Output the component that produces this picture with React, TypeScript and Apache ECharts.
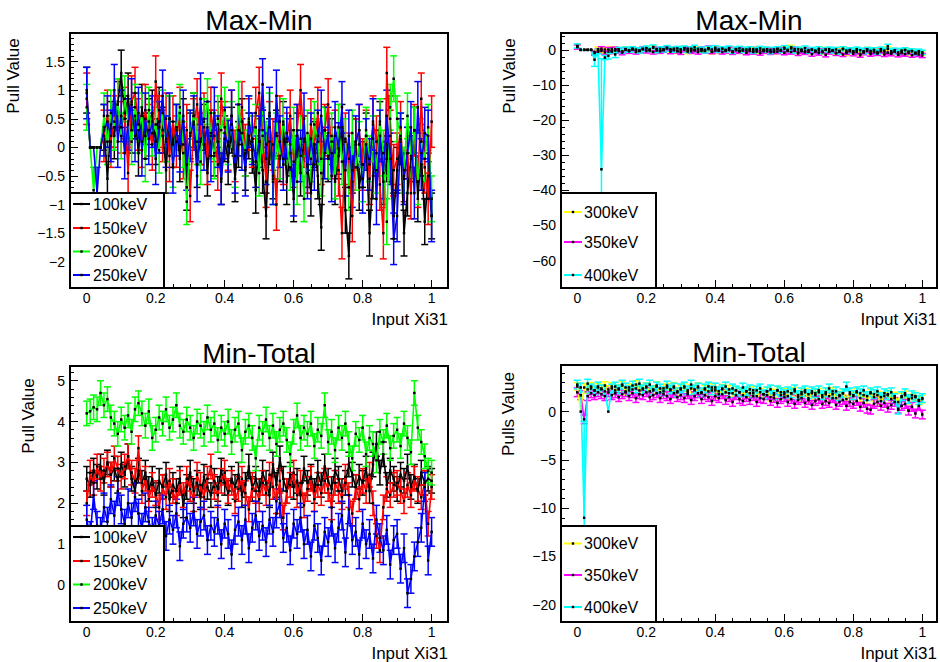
import React, { useEffect, useRef } from "react";
import * as echarts from "echarts";

// ---------- data ----------
const inputXi31: number[] = Array.from({ length: 101 }, (_, i) => i / 100);

// Max-Min (left)
const maxMin100keV = [
  1.0, 0, 0, 0, 0, 0.35, -0.55, 0.4, 0.2, 0.75,
  1.3, 0.5, 0.9, 0.3, 0.55, -0.1, 0.7, 0.2, 0.45, 0.6,
  0.1, 0.65, 0.3, -0.4, 0.5, 0.05, 0.35, -0.2, 0.45, -0.7,
  0.2, 0.55, -0.3, 0.1, 0.35, -0.45, 0.25, -0.1, 0.4, -0.6,
  0.15, -0.25, 0.3, -0.55, 0.05, 0.45, -0.35, 0.2, -0.05, -0.75,
  0.3, -0.4, -1.2, 0.1, -0.5, 0.25, -0.2, 0.4, -0.6, -0.1,
  -0.9, 0.2, -0.45, 0.15, -0.3, -0.8, 0.05, -0.5, -1.4, 0.3,
  -0.2, 0.1, -0.6, -0.15, 0.35, -1.1, -1.9, -0.4, 0.1, -0.7,
  -0.3, 0.2, -1.5, -0.5, -0.1, 0.4, -0.6, -0.2, 0.5, -1.2,
  -0.4, 0.1, -1.5, -0.8, -0.2, 0.3, -0.9, -0.1, -1.3, -0.5,
  -1.2,
];
const maxMin150keV = [
  0.85, 0, 0, 0, 0, 0.2, 0.55, 0.1, 0.45, 0.75,
  0.35, 0.6, -0.45, 0.8, 0.95, 0.4, 0.1, 0.65, 0.3, 0.05,
  1.15, 0.45, 0.2, 0.5, -0.15, 0.45, 0.1, 0.6, -0.1, 0.3,
  -0.85, 0.4, 0.75, 0.15, 0.5, -0.2, 0.6, 0.2, -0.3, 0.85,
  0.35, 0.05, 0.55, -0.15, 0.3, 0.7, -0.05, 0.4, 0.1, 0.6,
  0.95, 0.2, -0.6, 0.35, 0.05, -1.0, 0.45, -0.2, 0.15, 0.55,
  -0.25, 0.3, 1.0, 0.1, -0.35, 0.4, 0.05, 0.6, -0.2, 0.3,
  0.75, -0.1, 0.2, -0.4, -1.5, 0.15, -0.2, -1.2, 0.05, 0.3,
  -0.3, 0.2, -0.55, 0.45, 0.1, -0.65, -1.5, 1.3, 0.2, -0.4,
  -0.2, 0.35, -0.5, -0.1, -0.8, 0.3, -0.6, 0.85, -0.35, -0.9,
  0.45,
];
const maxMin200keV = [
  0.7, 0, -0.75, 0, 0, 0.55, 0.1, 0.6, 0.35, 0.8,
  0.2, 0.85, 0.45, 0.1, 0.7, 0.3, 0.55, -0.2, 0.65, 0.25,
  0.4, -0.05, 0.6, 0.15, 0.5, -0.3, 0.35, 0.7, 0.05, -0.95,
  0.25, 0.55, 0.1, -0.25, 0.45, 0.8, 0.2, -0.15, 0.5, 0.3,
  0.65, 0.1, 0.4, -0.3, 0.75, 0.25, -0.1, 0.5, 0.15, 0.35,
  -0.45, 0.3, 0.05, 0.55, -0.6, 0.2, -0.15, 0.45, 0.1, -0.35,
  0.3, -0.6, 0.15, -0.9, 0.25, -0.2, 0.4, 0.1, -0.45, 0.3,
  -0.15, 0.2, -0.5, 0.35, -0.25, 0.1, -0.7, 0.25, -0.35, 0.05,
  -0.55, 0.3, -0.2, 0.15, -0.4, 0.45, -0.1, -1.3, 0.7, 1.2,
  0.5, 0.2, -0.4, 0.55, -0.15, 0.3, -0.6, 0.1, -0.2, 0.35,
  -0.9,
];
const maxMin250keV = [
  0.95, 0, 0, -0.8, 0, 0.3, 0.45, 0.2, 1.0, 0.1,
  0.55, -0.1, 0.4, 0.75, 0.2, 0.6, -0.05, 0.5, 0.15, 0.45,
  -0.2, 0.35, 0.9, 0.1, 0.5, -0.35, 0.3, 0.02, 0.55, -0.3,
  0.2, 0.45, -0.5, 0.85, 0.05, 0.35, -0.15, 0.6, 0.1, -0.55,
  0.25, 0.02, 0.55, -0.35, 0.3, 0.05, -0.4, 0.45, 0.15, -0.25,
  0.1, 1.1, -0.2, 0.6, -0.55, 0.9, 0.1, -0.3, 0.25, 0.05,
  -0.75, 0.3, -0.15, 0.5, -0.45, 0.15, -0.3, 0.2, 0.55, -0.1,
  0.25, -0.5, 0.35, -0.02, 0.7, -0.4, 0.2, -0.6, 0.1, 0.3,
  -0.7, 0.05, -0.3, 0.4, -0.9, 0.2, -0.45, 0.55, -0.2, -1.6,
  -1.2, 0.15, -0.55, -0.1, 0.35, -0.8, 0.7, -0.3, 0.25, 0.2,
  -1.2,
];

// Min-Total (left)
const minTotal100keV = [
  2.6, 2.45, 2.8, 2.65, 2.9, 2.5, 3.0, 2.7, 2.85, 2.55,
  2.95, 2.7, 3.15, 2.6, 2.3, 2.8, 2.5, 2.75, 2.35, 2.6,
  2.2, 2.55, 2.4, 2.7, 2.1, 2.45, 2.3, 2.6, 1.95, 2.4,
  2.75, 2.3, 2.5, 2.15, 2.65, 2.4, 2.2, 2.55, 2.35, 2.8,
  2.5, 2.25, 2.6, 2.4, 2.7, 2.2, 2.45, 2.9, 2.35, 2.6,
  2.3, 2.75, 2.5, 2.2, 2.95, 2.45, 3.1, 2.6, 2.3, 2.7,
  2.4, 2.55, 2.2, 2.85, 2.5, 2.65, 2.3, 2.75, 2.45, 2.9,
  2.55, 2.35, 2.8, 2.6, 2.3, 2.5, 2.95, 2.7, 2.4, 2.65,
  2.5, 2.85, 2.3, 2.95, 3.45, 2.75, 3.2, 2.45, 2.8, 2.6,
  2.35, 2.7, 2.55, 2.9, 2.4, 2.65, 2.3, 2.75, 2.5, 2.6,
  2.55,
];
const minTotal150keV = [
  2.0, 2.75, 2.5, 2.9, 2.6, 2.8, 2.95, 2.7, 3.1, 2.85,
  2.65, 2.9, 3.15, 2.75, 2.55, 3.35, 2.3, 2.6, 2.1, 2.45,
  2.25, 1.9, 2.4, 2.15, 2.55, 2.3, 2.0, 2.5, 2.2, 2.6,
  2.35, 2.1, 2.7, 2.45, 2.15, 2.6, 2.9, 2.4, 2.2, 2.55,
  2.75, 2.3, 2.5, 2.05, 2.35, 2.6, 2.25, 1.85, 2.45, 2.3,
  2.1, 2.5, 2.25, 2.7, 2.4, 2.05, 2.55, 1.65, 2.3, 2.45,
  2.75, 2.2, 2.5, 1.95, 2.35, 2.6, 2.1, 2.45, 2.25, 2.55,
  2.35, 1.9, 2.5, 2.3, 2.15, 2.65, 2.2, 1.75, 2.4, 2.1,
  2.55, 2.3, 2.7, 2.0, 1.2, 0.85, 1.9, 2.35, 2.2, 2.45,
  2.5, 2.3, 2.05, 2.45, 2.2, 2.6, 2.35, 2.15, 2.5, 1.5,
  2.4,
];
const minTotal200keV = [
  4.2, 4.25, 4.35, 4.3, 4.7, 4.4, 4.55, 4.1, 3.95, 3.7,
  4.05, 3.85, 4.15, 3.75, 4.3, 4.45, 4.2, 3.9, 4.25, 3.6,
  3.8, 4.1, 3.95, 4.3, 3.85, 4.05, 4.4, 3.9, 3.75, 4.05,
  3.85, 3.6, 4.0, 3.9, 3.7, 4.1, 3.8, 3.95, 3.55, 3.85,
  3.7, 4.0, 3.5, 3.8, 3.95, 3.3, 3.75, 3.9, 3.6, 3.1,
  3.85, 3.7, 4.05, 3.6, 3.9, 3.45, 3.8, 3.95, 3.55, 3.2,
  3.75, 4.15, 3.6, 3.85, 3.7, 3.95, 3.4, 3.8, 3.65, 4.4,
  3.5, 3.75, 3.3, 3.85, 3.6, 3.95, 3.45, 3.1, 3.7, 3.55,
  3.85, 3.2, 3.6, 3.45, 3.05, 3.75, 3.5, 3.9, 3.35, 3.65,
  3.8, 3.4, 3.95, 3.6, 3.25, 4.7, 3.85, 3.5, 3.15, 2.8,
  2.75,
];
const minTotal250keV = [
  1.6, 1.2, 2.2, 1.45, 1.3, 1.9, 1.55, 2.1, 1.7, 2.3,
  1.85, 1.5, 2.0, 1.65, 2.15, 1.75, 1.4, 1.9, 1.55, 1.3,
  1.7, 1.45, 1.85, 1.2, 1.6, 1.35, 1.75, 0.95, 1.5, 1.65,
  1.4, 1.8, 1.25, 1.55, 1.7, 1.1, 1.45, 1.3, 1.6, 1.0,
  1.5, 1.25, 0.75, 1.35, 1.55, 1.1, 1.6, 0.9, 1.4, 1.7,
  1.2, 1.45, 1.05, 1.6, 1.3, 1.75, 2.0, 1.15, 1.4, 0.85,
  1.5, 1.25, 1.65, 1.0, 1.35, 0.7, 1.45, 1.15, 0.6, 1.3,
  1.05, 1.55, 0.9, 1.4, 1.7, 0.8, 1.85, 1.1, 1.3, 0.75,
  1.5, 1.0, 1.25, 0.65, 1.6, 1.15, 0.85, 1.35, 0.5, 1.1,
  1.25, 0.4, 0.9, -0.2, 0.15, 0.7, 1.05, 1.4, 2.4, 0.6,
  1.3,
];

// Max-Min (right)
const maxMin300keV = [
  1.0, 0, 0, 0, 0, -0.6, 0.2, -0.3, 0.1, -0.5,
  0.3, -0.2, 0.1, -0.4, 0.2, -0.1, 0.3, 0.0, -0.3, 0.2,
  0.4, -0.2, 0.6, 0.1, -0.3, 0.2, 0.5, -0.1, 0.3, -0.4,
  0.1, 0.4, -0.5, 0.2, -0.1, 0.3, -0.3, 0.0, 0.2, -0.6,
  0.1, -0.3, 0.3, -0.2, 0.0, -0.5, 0.2, -0.4, 0.1, -0.3,
  -0.1, 0.2, -0.5, -0.2, 0.1, -0.4, 0.0, -0.6, 0.2, -0.3,
  0.3, -0.2, 0.7, -0.1, -0.5, 0.1, -0.3, -0.6, 0.0, -0.4,
  -0.2, -0.7, 0.1, -0.4, -0.1, -0.8, -0.3, 0.2, -0.9, -0.2,
  -0.5, -0.1, -1.1, -0.4, 0.1, -0.7, -0.3, -0.9, -0.2, -0.6,
  0.3, -0.8, -0.3, -1.2, -0.5, -0.1, -0.9, -0.4, -1.0, -0.6,
  -0.9,
];
const maxMin350keV = [
  0.8, 0, 0, 0, 0, -0.9, -0.4, 0.3, -0.7, 0.1,
  -0.5, 0.2, -0.3, -0.8, 0.0, -0.4, 0.1, -0.6, -0.2, 0.3,
  -0.3, 0.0, -0.6, 0.2, -0.4, -0.1, 0.4, -0.5, 0.1, -0.3,
  -0.7, 0.0, 0.3, -0.4, -0.1, -0.6, 0.2, -0.3, 0.5, -0.5,
  -0.2, 0.1, -0.6, -0.3, 0.2, -0.7, -0.1, -0.4, 0.0, -0.8,
  -0.3, -0.6, 0.1, -0.9, -0.4, -0.1, -0.7, -0.2, -0.5, 0.0,
  -0.8, -0.3, -0.6, 0.2, -1.0, -0.4, -0.7, -0.1, -1.2, -0.5,
  -0.9, -0.3, -1.4, -0.6, -0.2, -1.0, -0.5, -1.3, -0.7, -0.4,
  -1.1, -0.6, -1.5, -0.8, -0.3, -1.2, -0.7, -1.0, -0.4, -1.3,
  -0.8, -1.1, -0.5, -1.4, -0.9, -1.2, -0.6, -1.5, -1.0, -1.3,
  -1.6,
];
const maxMin400keV = [
  1.1, 0, 0, 0, 0, -2.8, -0.5, -34.0, -2.2, -1.7,
  -0.3, -1.3, 0.1, -0.4, 0.2, -0.1, 0.3, 0.0, -0.3, 0.2,
  0.5, 0.1, 0.8, -0.2, 0.3, 0.0, 0.6, 0.2, -0.1, 0.4,
  0.1, 0.5, -0.2, 0.3, 0.7, 0.0, 0.2, -0.3, 0.4, 0.1,
  0.6, -0.1, 0.3, 0.0, 0.5, -0.4, 0.2, 0.4, -0.2, 0.1,
  0.3, -0.3, 0.0, 0.4, -0.1, 0.2, -0.5, 0.1, 0.3, -0.2,
  0.6, 0.0, 0.4, -0.3, 0.2, -0.1, 0.5, -0.4, 0.1, -0.2,
  0.3, -0.5, 0.0, 0.2, -0.3, 0.1, -0.6, 0.3, -0.2, 0.0,
  -0.4, 0.2, -0.1, -0.5, 0.1, -0.3, 0.0, -0.6, 0.2, -0.2,
  1.0, -0.4, -0.1, -0.7, -0.2, 0.0, -0.5, -0.3, -0.8, -0.4,
  -0.7,
];
const maxMin400keVLargeErrors: [number, number][] = [[5, 1.9], [7, 31.5], [9, 0.9], [11, 0.9]];

// Min-Total (right)
const minTotal300keV = [
  2.6, 0.0, 2.5, 2.3, 2.6, 2.2, 2.5, 2.4, 2.7, 2.3,
  2.6, 2.2, 2.4, 2.7, 2.1, 2.5, 2.3, 2.8, 2.2, 2.4,
  2.6, 2.1, 2.3, 2.7, 2.0, 2.4, 2.5, 2.2, 2.6, 2.1,
  2.3, 2.5, 2.0, 2.4, 2.2, 2.6, 1.9, 2.3, 2.1, 2.5,
  2.2, 1.8, 2.4, 2.0, 2.3, 1.9, 2.2, 2.0, 1.7, 2.1,
  1.9, 2.2, 1.6, 2.0, 1.8, 2.1, 1.5, 1.9, 2.2, 1.7,
  2.0, 1.6, 1.9, 2.1, 1.5, 1.8, 2.0, 1.4, 1.9, 1.7,
  2.0, 1.5, 1.8, 1.6, 2.1, 1.4, 1.7, 1.9, 1.3, 1.8,
  1.6, 2.0, 1.4, 1.7, 1.2, 1.9, 1.5, 1.7, 1.1, 1.6,
  1.8, 1.3, 1.6, 1.0, 1.5, 1.7, 1.2, 1.4, 1.6, 1.1,
  1.3,
];
const minTotal350keV = [
  2.0, 1.7, -0.8, 1.6, 1.9, 1.7, 2.0, 1.8, 1.6, 2.0,
  1.7, 1.9, 1.5, 1.8, 2.0, 1.6, 1.9, 1.4, 1.8, 1.7,
  2.0, 1.5, 1.7, 1.9, 1.4, 1.8, 1.6, 1.3, 1.9, 1.5,
  1.7, 1.4, 1.8, 1.2, 1.6, 1.9, 1.3, 1.7, 1.5, 1.1,
  1.6, 1.4, 1.8, 1.2, 1.5, 1.0, 1.7, 1.3, 1.1, 1.5,
  1.2, 1.6, 1.0, 1.4, 1.3, 1.7, 1.1, 1.4, 0.9, 1.3,
  1.5, 1.0, 1.3, 0.8, 1.2, 1.4, 0.9, 1.2, 0.7, 1.1,
  1.3, 0.8, 1.1, 0.9, 1.4, 0.7, 1.0, 1.2, 0.6, 1.0,
  0.8, 1.1, 0.5, 0.9, 0.3, 0.2, 0.8, 1.0, 0.6, 0.9,
  0.4, 0.7, 1.0, 0.3, 0.6, 0.8, 0.1, 0.5, -0.2, 0.6,
  -0.3,
];
const minTotal400keV = [
  2.8, 2.5, -11.0, 2.9, 2.4, 2.2, 2.6, 2.3, 2.1, 0.0,
  2.4, 2.6, 2.3, 2.8, 2.5, 2.2, 2.7, 2.4, 2.9, 2.3,
  2.5, 2.8, 2.2, 2.6, 2.4, 2.1, 2.7, 2.3, 2.5, 2.0,
  2.4, 2.6, 2.2, 2.8, 2.3, 2.5, 2.0, 2.4, 2.6, 2.2,
  2.5, 2.1, 2.3, 2.6, 1.9, 2.4, 2.2, 2.0, 2.5, 2.1,
  2.3, 1.9, 2.2, 2.4, 1.8, 2.1, 2.3, 1.7, 2.2, 2.0,
  1.8, 2.1, 1.9, 2.3, 1.7, 2.0, 2.2, 1.8, 2.1, 1.9,
  2.2, 1.7, 2.0, 2.4, 1.8, 2.1, 1.6, 1.9, 2.6, 2.0,
  1.7, 2.1, 1.9, 2.2, 1.6, 2.0, 1.8, 2.1, 1.5, 1.9,
  1.7, 2.0, 1.4, 0.2, 1.6, 1.9, 1.3, 1.7, 1.5, 1.2,
  1.4,
];
const minTotal400keVLargeErrors: [number, number][] = [[2, 10.0]];

// ---------- styling / layout ----------
const FONT = '"Liberation Sans", Arial, Helvetica, sans-serif';

type Curve = {
  name: string;
  color: string;
  values: number[];
  err: number;
  noErr: number[];
  bigErr?: [number, number][];
};

type Panel = {
  title: string;
  yTitle: string;
  left: number;
  top: number;
  width: number;
  height: number;
  xMin: number;
  xMax: number;
  yMin: number;
  yMax: number;
  yStep: number;
  ySplit: number;
  yTitlePos: [number, number];
  legendBox: [number, number, number, number];
  legendRows: number[];
  legendLine: [number, number];
  legendTextX: number;
  curves: Curve[];
};

const panels: Panel[] = [
  {
    title: "Max-Min", yTitle: "Pull Value",
    left: 70, top: 33, width: 378, height: 255,
    xMin: -0.0485, xMax: 1.0475, yMin: -2.46, yMax: 2.0, yStep: 0.5, ySplit: 9,
    yTitlePos: [13, 76],
    legendBox: [70, 193, 94, 95], legendRows: [204, 228, 251.5, 275], legendLine: [73, 90], legendTextX: 93,
    curves: [
      { name: "100keV", color: "#000000", values: maxMin100keV, err: 0.4, noErr: [1, 2, 3, 4] },
      { name: "150keV", color: "#ff0000", values: maxMin150keV, err: 0.45, noErr: [1, 2, 3, 4] },
      { name: "200keV", color: "#00ff00", values: maxMin200keV, err: 0.4, noErr: [1, 3, 4] },
      { name: "250keV", color: "#0000ff", values: maxMin250keV, err: 0.45, noErr: [1, 2, 4] },
    ],
  },
  {
    title: "Max-Min", yTitle: "Pull Value",
    left: 561, top: 33, width: 376, height: 255,
    xMin: -0.0472, xMax: 1.0426, yMin: -67.8, yMax: 4.8, yStep: 10, ySplit: 7,
    yTitlePos: [509, 76],
    legendBox: [561, 193, 95, 95], legendRows: [212, 242, 275], legendLine: [564, 582], legendTextX: 584,
    curves: [
      { name: "300keV", color: "#ffff00", values: maxMin300keV, err: 0.6, noErr: [1, 2, 3, 4] },
      { name: "350keV", color: "#ff00ff", values: maxMin350keV, err: 0.6, noErr: [1, 2, 3, 4] },
      { name: "400keV", color: "#00ffff", values: maxMin400keV, err: 0.6, noErr: [1, 2, 3, 4], bigErr: maxMin400keVLargeErrors },
    ],
  },
  {
    title: "Min-Total", yTitle: "Pull Value",
    left: 70, top: 366, width: 378, height: 256,
    xMin: -0.0485, xMax: 1.0475, yMin: -0.905, yMax: 5.36, yStep: 1, ySplit: 6,
    yTitlePos: [28, 416],
    legendBox: [70, 526, 94, 96], legendRows: [537, 561, 584.5, 608], legendLine: [73, 90], legendTextX: 93,
    curves: [
      { name: "100keV", color: "#000000", values: minTotal100keV, err: 0.3, noErr: [] },
      { name: "150keV", color: "#ff0000", values: minTotal150keV, err: 0.3, noErr: [] },
      { name: "200keV", color: "#00ff00", values: minTotal200keV, err: 0.3, noErr: [] },
      { name: "250keV", color: "#0000ff", values: minTotal250keV, err: 0.35, noErr: [] },
    ],
  },
  {
    title: "Min-Total", yTitle: "Pulls Value",
    left: 561, top: 365, width: 376, height: 257,
    xMin: -0.0472, xMax: 1.0426, yMin: -21.8, yMax: 4.83, yStep: 5, ySplit: 5,
    yTitlePos: [508, 414],
    legendBox: [561, 526, 95, 96], legendRows: [543.5, 575, 607], legendLine: [564, 582], legendTextX: 584,
    curves: [
      { name: "300keV", color: "#ffff00", values: minTotal300keV, err: 0.4, noErr: [1] },
      { name: "350keV", color: "#ff00ff", values: minTotal350keV, err: 0.45, noErr: [] },
      { name: "400keV", color: "#00ffff", values: minTotal400keV, err: 0.45, noErr: [9], bigErr: minTotal400keVLargeErrors },
    ],
  },
];

function fmtTick(step: number) {
  return (v: number) => {
    const r = v / step;
    if (Math.abs(r - Math.round(r)) > 1e-6) return "";
    const s = String(Number((Math.round(r) * step).toFixed(4)));
    return s.replace("-", "\u2212");
  };
}

function buildOption() {
  const grid: any[] = [];
  const xAxis: any[] = [];
  const yAxis: any[] = [];
  const series: any[] = [];
  const graphic: any[] = [];

  panels.forEach((p, k) => {
    grid.push({
      left: p.left, top: p.top, width: p.width, height: p.height,
      show: true, borderColor: "#000", borderWidth: 2, backgroundColor: "transparent",
      containLabel: false, outerBoundsMode: "none",
    });
    xAxis.push({
      type: "value", gridIndex: k, min: p.xMin, max: p.xMax, splitNumber: 5, position: "bottom",
      axisLine: { show: false, onZero: false },
      axisTick: { show: true, inside: true, length: 8, lineStyle: { color: "#000", width: 1 } },
      minorTick: { show: true, splitNumber: 4, length: 4, lineStyle: { color: "#000", width: 1 } },
      splitLine: { show: false }, minorSplitLine: { show: false },
      axisLabel: {
        show: true, margin: 3, color: "#000", fontSize: 14, fontFamily: FONT,
        showMinLabel: false, showMaxLabel: false, formatter: fmtTick(0.2),
      },
    });
    yAxis.push({
      type: "value", gridIndex: k, min: p.yMin, max: p.yMax, splitNumber: p.ySplit, position: "left",
      axisLine: { show: false, onZero: false },
      axisTick: { show: true, inside: true, length: 8, lineStyle: { color: "#000", width: 1 } },
      minorTick: { show: true, splitNumber: 5, length: 4, lineStyle: { color: "#000", width: 1 } },
      splitLine: { show: false }, minorSplitLine: { show: false },
      axisLabel: {
        show: true, margin: 5, color: "#000", fontSize: 14, fontFamily: FONT,
        showMinLabel: false, showMaxLabel: false, formatter: fmtTick(p.yStep),
      },
    });

    p.curves.forEach((c) => {
      const big = new Map<number, number>(c.bigErr || []);
      const errData = inputXi31.map((x, i) => [
        x,
        c.values[i],
        c.noErr.includes(i) ? 0 : big.has(i) ? (big.get(i) as number) : c.err,
      ]);
      series.push({
        type: "custom", xAxisIndex: k, yAxisIndex: k, data: errData, clip: true, silent: true,
        encode: { x: 0, y: 1 },
        renderItem: (_params: any, api: any) => {
          const x = api.value(0), y = api.value(1), e = api.value(2);
          if (!e) return { type: "group", children: [] };
          const a = api.coord([x, y + e]);
          const b = api.coord([x, y - e]);
          const h = 3.5;
          const style = { stroke: c.color, lineWidth: 1.5, fill: null };
          return {
            type: "group",
            children: [
              { type: "line", shape: { x1: a[0], y1: a[1], x2: b[0], y2: b[1] }, style },
              { type: "line", shape: { x1: a[0] - h, y1: a[1], x2: a[0] + h, y2: a[1] }, style },
              { type: "line", shape: { x1: b[0] - h, y1: b[1], x2: b[0] + h, y2: b[1] }, style },
            ],
          };
        },
      });
      series.push({
        type: "line", name: c.name, xAxisIndex: k, yAxisIndex: k,
        data: inputXi31.map((x, i) => [x, c.values[i]]),
        symbol: "rect", symbolSize: 2.5, showSymbol: true,
        itemStyle: { color: "#000" },
        lineStyle: { color: c.color, width: 1.6 },
        silent: true, emphasis: { disabled: true }, clip: true,
      });
    });

    // title
    graphic.push({
      type: "text", x: p.left + p.width / 2, y: p.top - 13, z: 100,
      style: { text: p.title, font: `28px ${FONT}`, fill: "#000", align: "center", verticalAlign: "middle" },
    });
    // x title
    graphic.push({
      type: "text", x: p.left + p.width, y: p.top + p.height + 31, z: 100,
      style: { text: "Input Xi31", font: `17px ${FONT}`, fill: "#000", align: "right", verticalAlign: "middle" },
    });
    // y title
    graphic.push({
      type: "text", x: p.yTitlePos[0], y: p.yTitlePos[1], rotation: Math.PI / 2, z: 100,
      style: { text: p.yTitle, font: `17px ${FONT}`, fill: "#000", align: "center", verticalAlign: "middle" },
    });
    // legend
    const [bx, by, bw, bh] = p.legendBox;
    graphic.push({
      type: "rect", z: 100, shape: { x: bx, y: by, width: bw, height: bh },
      style: { fill: "#fff", stroke: "#000", lineWidth: 2 },
    });
    p.curves.forEach((c, j) => {
      const ry = p.legendRows[j];
      const [lx1, lx2] = p.legendLine;
      graphic.push({
        type: "line", z: 101, shape: { x1: lx1, y1: ry, x2: lx2, y2: ry },
        style: { stroke: c.color, lineWidth: 2 },
      });
      graphic.push({
        type: "rect", z: 102, shape: { x: (lx1 + lx2) / 2 - 1.2, y: ry - 1.2, width: 2.4, height: 2.4 },
        style: { fill: "#000" },
      });
      graphic.push({
        type: "text", z: 102, x: p.legendTextX, y: ry,
        style: { text: c.name, font: `16px ${FONT}`, fill: "#000", align: "left", verticalAlign: "middle" },
      });
    });
  });

  return {
    animation: false,
    backgroundColor: "#ffffff",
    grid, xAxis, yAxis, series, graphic,
  };
}

export default function App() {
  const ref = useRef<HTMLDivElement>(null);
  useEffect(() => {
    if (!ref.current) return;
    const chart = echarts.init(ref.current, null, { renderer: "svg" });
    chart.setOption(buildOption() as any);
    return () => chart.dispose();
  }, []);
  return (
    <div
      ref={ref}
      style={{ position: "fixed", left: 0, top: 0, width: 940, height: 662, background: "#fff" }}
    />
  );
}
